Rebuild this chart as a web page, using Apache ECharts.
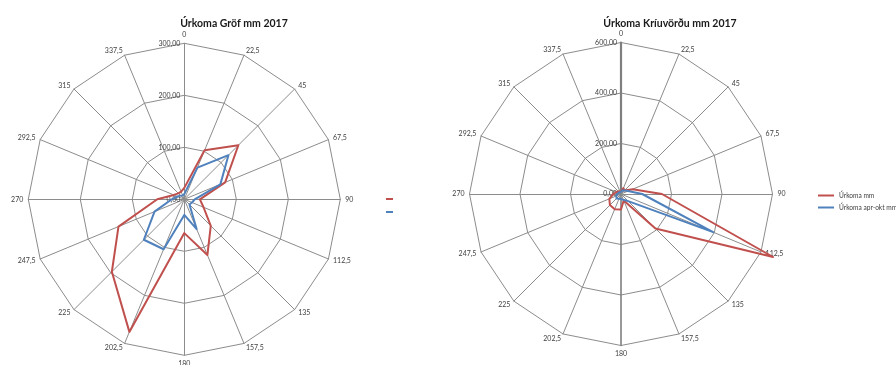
<!DOCTYPE html>
<html>
<head>
<meta charset="utf-8">
<script src="https://cdn.jsdelivr.net/npm/echarts@6/dist/echarts.min.js"></script>
<style>
html,body{margin:0;padding:0;background:#fff}
#c{width:896px;height:365px}
</style>
</head>
<body>
<div id="c"></div>
<script>
// Wind directions (degrees), clockwise from north
const directions = ['0','22,5','45','67,5','90','112,5','135','157,5','180','202,5','225','247,5','270','292,5','315','337,5'];

// Precipitation per wind direction, Gröf 2017 (mm)
const grofTotal  = [22, 102, 147, 85, 30, 40, 72, 116, 65, 276, 197, 137, 52, 22, 16, 16];
const grofAprOkt = [10, 66, 120, 75, 20, 16, 14, 62, 30, 104, 110, 62, 24, 14, 10, 8];

// Precipitation per wind direction, Kríuvörður 2017 (mm)
const kriuTotal  = [10, 25, 20, 50, 162, 652, 193, 28, 61, 65, 62, 50, 30, 20, 15, 10];
const kriuAprOkt = [8, 15, 20, 30, 84, 395, 40, 25, 20, 20, 25, 20, 15, 10, 10, 8];

const grofTicks = [0, 100, 200, 300];
const kriuTicks = [0, 200, 400, 600];

const seriesNames = ['Úrkoma mm', 'Úrkoma apr-okt mm'];
const colors = ['#C0504D', '#4F81BD'];

// ECharts lays radar indicators out counter-clockwise; reorder so the
// compass directions run clockwise.
const order = [0];
for (let i = directions.length - 1; i >= 1; i--) order.push(i);
const reorder = arr => order.map(k => arr[k]);

const fmt = v => v.toFixed(2).replace('.', ',');

function radarCfg(center, radius, ticks, heavyVertical) {
  const max = ticks[ticks.length - 1];
  return {
    center: center,
    radius: radius,
    shape: 'polygon',
    startAngle: 90,
    splitNumber: ticks.length - 1,
    indicator: order.map((k, i) => {
      const ind = { name: directions[k], min: ticks[0], max: max };
      if (i === 0) ind.axisLabel = { show: true };
      if (heavyVertical && (k === 0 || k === 8)) {
        ind.axisLine = { lineStyle: { color: '#7f7f7f', width: k === 0 ? 2.2 : 1.6 } };
      }
      return ind;
    }),
    nameGap: 5,
    axisName: { color: '#404040', fontSize: 7, fontFamily: 'Lato' },
    splitLine: { lineStyle: { color: '#8c8c8c', width: 1 } },
    splitArea: { show: false },
    axisLine: { lineStyle: { color: '#8c8c8c', width: 1 } },
    axisTick: { show: false },
    axisLabel: {
      show: false,
      formatter: fmt,
      color: '#404040',
      fontSize: 7,
      fontFamily: 'Lato',
      margin: 4
    }
  };
}

function radarSeries(radarIndex, a, b) {
  return {
    type: 'radar',
    radarIndex: radarIndex,
    symbol: 'none',
    silent: true,
    data: [
      { name: seriesNames[0], value: reorder(a), lineStyle: { color: colors[0], width: 2 }, itemStyle: { color: colors[0] } },
      { name: seriesNames[1], value: reorder(b), lineStyle: { color: colors[1], width: 2 }, itemStyle: { color: colors[1] } }
    ]
  };
}

const titleStyle = { fontSize: 10.5, fontWeight: 'bold', color: '#1a1a1a', fontFamily: 'Lato' };

const chart = echarts.init(document.getElementById('c'), null, { renderer: 'canvas' });
chart.setOption({
  animation: false,
  backgroundColor: '#ffffff',
  title: [
    { text: 'Úrkoma Gröf mm 2017', left: 229, top: 13, textAlign: 'center', textStyle: titleStyle },
    { text: 'Úrkoma Kríuvörðu mm 2017', left: 665, top: 13, textAlign: 'center', textStyle: titleStyle }
  ],
  legend: [
    { data: seriesNames, orient: 'vertical', left: 386, top: 198, padding: 0, itemWidth: 7, itemHeight: 2,
      itemGap: 11, icon: 'rect', formatter: () => '', selectedMode: false,
      textStyle: { fontSize: 7 } },
    { data: seriesNames, orient: 'vertical', left: 818, top: 192, padding: 0, itemWidth: 16, itemHeight: 2,
      itemGap: 5, icon: 'rect', selectedMode: false,
      textStyle: { fontSize: 6.6, color: '#404040', fontFamily: 'Lato' } }
  ],
  radar: [
    radarCfg([184.3, 199.3], 156, grofTicks, false),
    radarCfg([621, 194], 151.5, kriuTicks, true)
  ],
  series: [
    radarSeries(0, grofTotal, grofAprOkt),
    radarSeries(1, kriuTotal, kriuAprOkt)
  ]
});
</script>
</body>
</html>
